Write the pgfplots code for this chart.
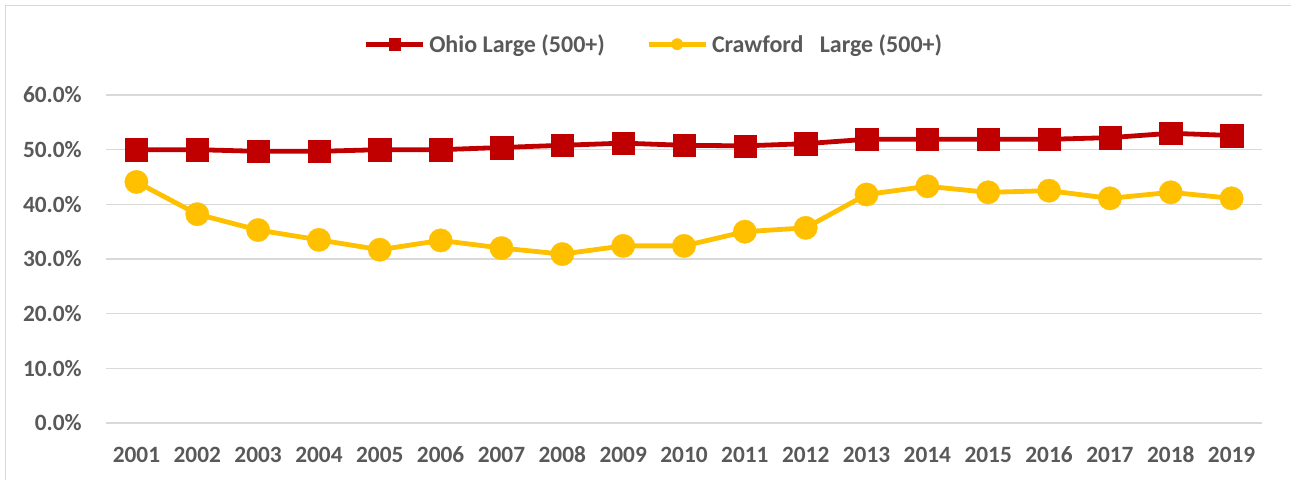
\documentclass[border=0pt]{standalone}
\usepackage{pgfplots}
\pgfplotsset{compat=1.18}
\usepackage{fontspec}
\setmainfont{Carlito}
\definecolor{ored}{HTML}{C00000}
\definecolor{cyel}{HTML}{FFC000}
\definecolor{gridc}{HTML}{D9D9D9}
\definecolor{txt}{HTML}{595959}
\begin{document}
\begin{tikzpicture}
\draw[gridc, line width=1.1pt] (4pt,-360pt) -- (4pt,-4pt) -- (968.25pt,-4pt);
\begin{axis}[
  at={(79.5pt,-317.25pt)}, anchor=south west,
  scale only axis, width=867pt, height=246pt,
  xmin=-0.5, xmax=18.5, ymin=0, ymax=60,
  axis line style={draw=none},
  ymajorgrids, major grid style={gridc, line width=1.1pt},
  major tick length=0pt, tick style={draw=none},
  xtick={0,...,18},
  xticklabels={2001,2002,2003,2004,2005,2006,2007,2008,2009,2010,2011,2012,2013,2014,2015,2016,2017,2018,2019},
  ytick={0,10,20,30,40,50,60},
  yticklabels={0.0\%,10.0\%,20.0\%,30.0\%,40.0\%,50.0\%,60.0\%},
  tick label style={font=\fontsize{17.5}{20}\selectfont\bfseries, text=txt, inner sep=0pt},
  xticklabel style={anchor=base, yshift=-29.8pt},
  yticklabel style={anchor=east, xshift=-18pt},
  legend columns=-1,
  legend style={draw=none, fill=none, at={(0.473,1.155)}, anchor=center,
    font=\fontsize{18}{21}\selectfont\bfseries, text=txt,
    nodes={inner sep=0pt},
    /tikz/every odd column/.append style={column sep=3pt},
    /tikz/every even column/.append style={column sep=31pt}},
  legend image code/.code={
    \draw[#1, mark=none] (0pt,0pt) -- (42.75pt,0pt);
    \draw[#1, mark size=4.3pt] plot coordinates {(21.4pt,0pt)};
  },
]
\addplot[ored, line width=3.6pt, mark=square*, mark size=8.4pt, mark options={solid, line width=0.2pt}]
coordinates {(0,50.0) (1,50.0) (2,49.7) (3,49.7) (4,50.0) (5,50.0) (6,50.4) (7,50.8) (8,51.2) (9,50.8)
(10,50.7) (11,51.1) (12,51.9) (13,51.9) (14,51.9) (15,51.9) (16,52.2) (17,53.0) (18,52.6)};
\addlegendentry{Ohio Large (500+)}
\addplot[cyel, line width=3.6pt, mark=*, mark size=8.8pt, mark options={solid, line width=0.2pt}]
coordinates {(0,44.1) (1,38.2) (2,35.3) (3,33.5) (4,31.7) (5,33.4) (6,32.0) (7,30.9) (8,32.4) (9,32.4)
(10,35.0) (11,35.7) (12,41.8) (13,43.3) (14,42.2) (15,42.5) (16,41.1) (17,42.2) (18,41.1)};
\addlegendentry{Crawford\ \ \ Large (500+)}
\end{axis}
\pgfresetboundingbox
\useasboundingbox (0pt,0pt) rectangle (968.25pt,-360pt);
\end{tikzpicture}
\end{document}
